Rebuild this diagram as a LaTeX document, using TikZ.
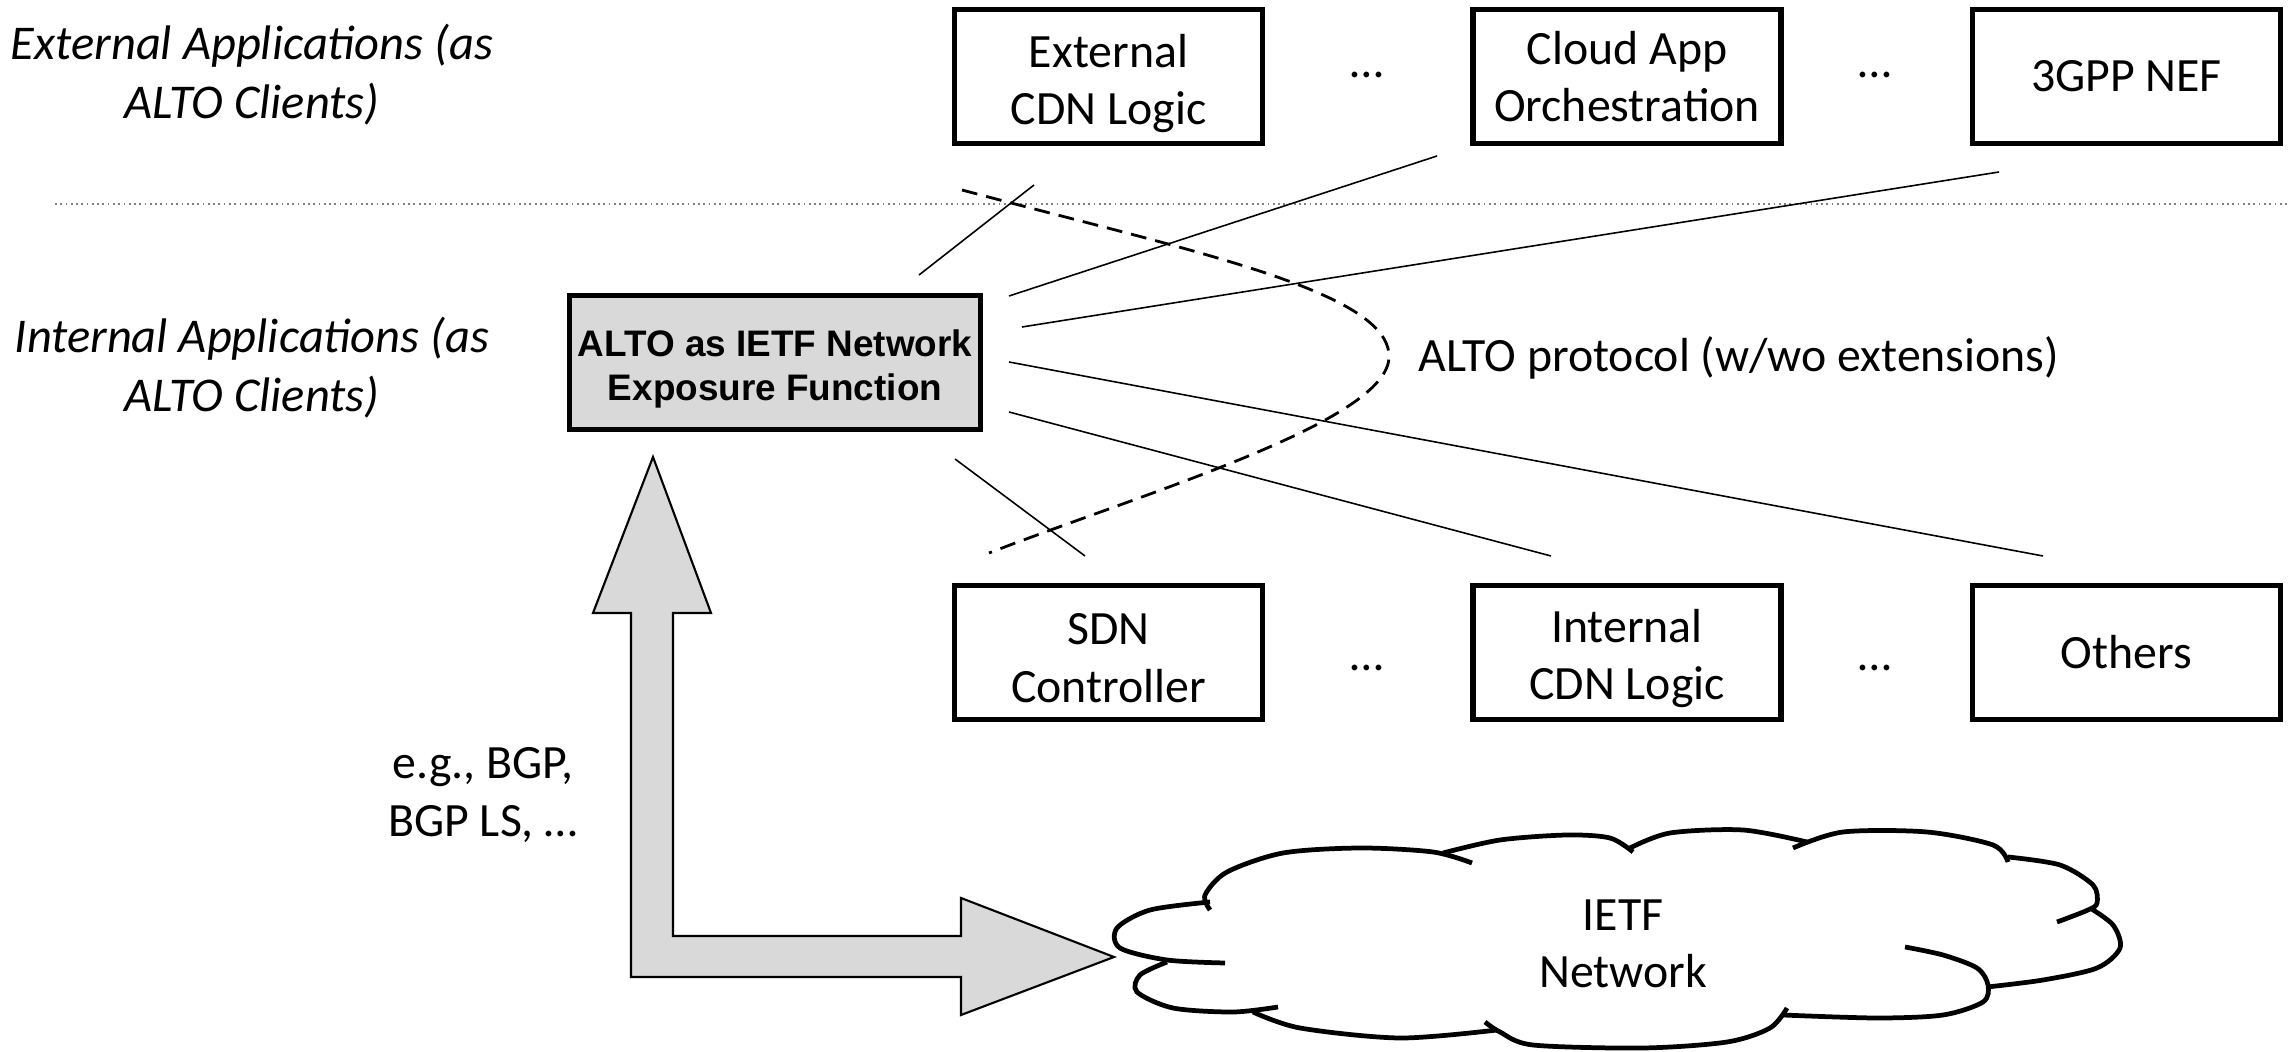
\documentclass[tikz,border=0pt]{standalone}
\usepackage{fontspec}
\setmainfont{Carlito}
\newfontfamily\arialfont{Liberation Sans}
\definecolor{fillgray}{HTML}{D9D9D9}

\begin{document}
\begin{tikzpicture}[font=\fontsize{13.6}{16.4}\selectfont,
  appbox/.style={draw, line width=1.6pt, minimum width=3.08cm, minimum height=1.34cm, align=center, inner sep=1pt},
  layer/.style={align=center, font=\fontsize{13.8}{16.8}\selectfont\itshape},
  spoke/.style={line width=0.45pt},
  puff/.style={line width=1.35pt}]
\useasboundingbox (0,0) rectangle (22.9,10.51);

\node[layer] (extlabel) at (2.52,9.765) {External Applications (as\\ALTO Clients)};
\node[layer] (intlabel) at (2.52,6.83) {Internal Applications (as\\ALTO Clients)};
\draw[densely dotted, gray, line width=0.5pt] (0.55,8.47) -- (22.9,8.47);

\node[appbox, text height=29.9pt] (extcdn) at (11.085,9.745) {External\\CDN Logic};
\node[appbox] (cloudapp) at (16.27,9.745) {Cloud App\\Orchestration};
\node[appbox] (nef) at (21.265,9.745) {3GPP NEF};
\node (dotsa) at (13.67,9.76) {…};
\node (dotsb) at (18.75,9.76) {…};

\node[appbox, text height=28.3pt] (sdn) at (11.085,3.985) {SDN\\Controller};
\node[appbox, text height=29.2pt] (intcdn) at (16.27,3.985) {Internal\\CDN Logic};
\node[appbox] (others) at (21.265,3.985) {Others};
\node (dotsc) at (13.67,3.83) {…};
\node (dotsd) at (18.75,3.83) {…};

\node[appbox, fill=fillgray, minimum width=4.11cm, text height=24pt, font=\arialfont\bfseries\fontsize{10.5}{12.6}\selectfont] (alto) at (7.75,6.885) {ALTO as IETF Network\\Exposure Function};

\coordinate (s1a) at (9.19,7.76);  \coordinate (s1b) at (10.34,8.66);
\coordinate (s2a) at (10.09,7.55); \coordinate (s2b) at (14.37,8.95);
\coordinate (s3a) at (10.22,7.24); \coordinate (s3b) at (19.99,8.79);
\coordinate (s4a) at (10.09,6.89); \coordinate (s4b) at (20.43,4.95);
\coordinate (s5a) at (10.09,6.39); \coordinate (s5b) at (15.51,4.95);
\coordinate (s6a) at (9.55,5.92);  \coordinate (s6b) at (10.85,4.95);
\draw[spoke] (s1a) -- (s1b);
\draw[spoke] (s2a) -- (s2b);
\draw[spoke] (s3a) -- (s3b);
\draw[spoke] (s4a) -- (s4b);
\draw[spoke] (s5a) -- (s5b);
\draw[spoke] (s6a) -- (s6b);

\draw[line width=0.8pt, dash pattern=on 4.5pt off 2.6pt] (9.62,8.61) .. controls (11.9,8.0) and (13.9,7.6) .. (13.89,6.94) .. controls (13.88,6.3) and (11.5,5.6) .. (9.89,4.98);
\node[anchor=west] (proto) at (14.06,6.93) {ALTO protocol (w/wo extensions)};

\draw[fill=fillgray, line width=0.6pt] (6.53,5.94) -- (7.11,4.38) -- (6.73,4.38) -- (6.73,1.15) -- (9.61,1.15) -- (9.61,1.53) -- (11.14,0.94) -- (9.61,0.36) -- (9.61,0.74) -- (6.31,0.74) -- (6.31,4.38) -- (5.93,4.38) -- cycle;
\node[align=center] (bgp) at (4.83,2.56) {e.g., BGP,\\BGP LS, …};

\draw[puff] plot[smooth] coordinates {(12.10,1.41) (12.05,1.56) (12.27,1.79) (12.83,1.98) (13.60,2.03) (14.33,1.99) (14.72,1.88)};
\draw[puff] plot[smooth] coordinates {(14.43,1.98) (15.00,2.11) (15.67,2.16) (16.10,2.13) (16.33,1.99)};
\draw[puff] plot[smooth] coordinates {(16.30,2.03) (16.70,2.18) (17.43,2.21) (18.07,2.09)};
\draw[puff] plot[smooth] coordinates {(17.93,2.03) (18.43,2.19) (19.27,2.19) (19.93,2.06) (20.08,1.89)};
\draw[puff] plot[smooth] coordinates {(20.08,1.94) (20.60,1.86) (20.93,1.66) (20.97,1.48) (20.88,1.41) (20.57,1.29)};
\draw[puff] plot[smooth] coordinates {(20.90,1.43) (21.13,1.26) (21.20,1.03) (20.97,0.83) (20.43,0.71) (19.87,0.64)};
\draw[puff] plot[smooth] coordinates {(19.05,1.04) (19.43,0.96) (19.77,0.83) (19.88,0.66) (19.83,0.49) (19.43,0.36) (18.77,0.33) (17.83,0.36)};
\draw[puff] plot[smooth] coordinates {(17.87,0.43) (17.70,0.23) (17.27,0.09) (16.43,0.03) (15.33,0.06) (15.00,0.19) (14.85,0.29)};
\draw[puff] plot[smooth] coordinates {(14.97,0.21) (14.00,0.13) (13.00,0.23) (12.53,0.39)};
\draw[puff] plot[smooth] coordinates {(11.67,0.89) (11.40,0.76) (11.37,0.59) (11.73,0.43) (12.33,0.39) (12.78,0.44)};
\draw[puff] plot[smooth] coordinates {(12.10,1.49) (11.50,1.41) (11.17,1.23) (11.20,1.03) (11.67,0.91) (12.25,0.88)};
\node[align=center] (ietf) at (16.23,1.07) {IETF\\Network};
\end{tikzpicture}
\end{document}
